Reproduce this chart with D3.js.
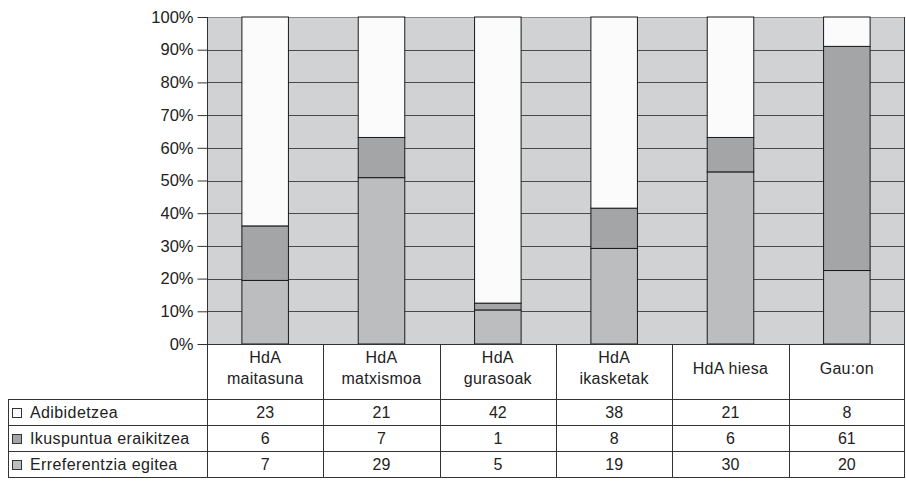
<!DOCTYPE html>
<html>
<head>
<meta charset="utf-8">
<script src="https://cdn.jsdelivr.net/npm/d3@7"></script>
<style>
  body { margin: 0; background: #fff; }
  text { font-family: "Liberation Sans", Arial, sans-serif; fill: #222; }
</style>
</head>
<body>
<div id="chart"></div>
<script>
// categories (header lines) and series values
const categories = [
  ["HdA", "maitasuna"],
  ["HdA", "matxismoa"],
  ["HdA", "gurasoak"],
  ["HdA", "ikasketak"],
  ["HdA hiesa"],
  ["Gau:on"],
];
const seriesNames = ["Adibidetzea", "Ikuspuntua eraikitzea", "Erreferentzia egitea"];
const adibidetzea = [23, 21, 42, 38, 21, 8];
const ikuspuntua = [6, 7, 1, 8, 6, 61];
const erreferentzia = [7, 29, 5, 19, 30, 20];
const yTicks = [0, 0.1, 0.2, 0.3, 0.4, 0.5, 0.6, 0.7, 0.8, 0.9, 1];

const seriesValues = [adibidetzea, ikuspuntua, erreferentzia];
const colors = ["#fbfbfb", "#a4a5a7", "#bcbdbf"];

const width = 906, height = 488;
const plot = { left: 207, right: 905, top: 17, bottom: 344 };
const table = { left: 8, headerBottom: 399, rowH: 26 };
const fontSize = 16;

const svg = d3.select("#chart").append("svg")
  .attr("width", width).attr("height", height);

const keys = categories.map((c, i) => "c" + i);
const xScale = d3.scaleBand().domain(keys)
  .range([plot.left, plot.right]).paddingInner(0).paddingOuter(0);
const yScale = d3.scaleLinear().domain([0, 1]).range([plot.bottom, plot.top]);

// plot background
svg.append("rect")
  .attr("x", plot.left).attr("y", plot.top)
  .attr("width", plot.right - plot.left).attr("height", plot.bottom - plot.top)
  .attr("fill", "#d1d2d4");

// gridlines
svg.append("g").selectAll("line").data(yTicks.slice(1))
  .join("line")
  .attr("x1", plot.left).attr("x2", plot.right)
  .attr("y1", d => Math.round(yScale(d)) + 0.5)
  .attr("y2", d => Math.round(yScale(d)) + 0.5)
  .attr("stroke", (d) => d === 1 ? "#8a8a8a" : "#4a4a4a")
  .attr("stroke-width", 1);

// stacked (100%) data, bottom series first
const rows = categories.map((c, i) => {
  const o = { key: keys[i] };
  seriesNames.forEach((s, j) => (o[s] = seriesValues[j][i]));
  return o;
});
const stack = d3.stack()
  .keys(seriesNames.slice().reverse())
  .offset(d3.stackOffsetExpand);
const stacked = stack(rows);

const barW = xScale.bandwidth() * 0.4;
stacked.forEach((layer) => {
  const ci = seriesNames.indexOf(layer.key);
  svg.append("g").selectAll("rect").data(layer)
    .join("rect")
    .attr("x", d => xScale(d.data.key) + (xScale.bandwidth() - barW) / 2)
    .attr("y", d => yScale(d[1]))
    .attr("width", barW)
    .attr("height", d => yScale(d[0]) - yScale(d[1]))
    .attr("fill", colors[ci])
    .attr("stroke", "#1a1a1a")
    .attr("stroke-width", 1);
});

// plot border left/right
svg.append("line")
  .attr("x1", plot.left + 0.5).attr("x2", plot.left + 0.5)
  .attr("y1", plot.top).attr("y2", plot.bottom)
  .attr("stroke", "#333");
svg.append("line")
  .attr("x1", plot.right - 0.5).attr("x2", plot.right - 0.5)
  .attr("y1", plot.top).attr("y2", plot.bottom)
  .attr("stroke", "#333");

// y axis
const yAxis = d3.axisLeft(yScale)
  .tickValues(yTicks)
  .tickFormat(d3.format(".0%"))
  .tickSize(10)
  .tickPadding(4);
const yg = svg.append("g")
  .attr("transform", `translate(${plot.left + 0.5},0)`)
  .call(yAxis);
yg.select(".domain").remove();
yg.selectAll(".tick line").attr("stroke", "#333");
yg.selectAll(".tick text")
  .attr("font-size", 16.5)
  .attr("font-family", "Liberation Sans, Arial, sans-serif")
  .attr("fill", "#222");

// data table
const tableBottom = table.headerBottom + table.rowH * seriesNames.length;
const tg = svg.append("g").attr("stroke", "#333").attr("stroke-width", 1);
// top line under the plot
tg.append("line")
  .attr("x1", plot.left).attr("x2", plot.right)
  .attr("y1", plot.bottom + 0.5).attr("y2", plot.bottom + 0.5);
// row lines
d3.range(seriesNames.length + 1).forEach((r) => {
  const y = table.headerBottom + r * table.rowH + 0.5;
  tg.append("line")
    .attr("x1", table.left).attr("x2", plot.right)
    .attr("y1", y).attr("y2", y);
});
// vertical lines
keys.forEach((k, i) => {
  const x = Math.round(xScale(k)) + 0.5;
  tg.append("line").attr("x1", x).attr("x2", x)
    .attr("y1", plot.bottom).attr("y2", tableBottom);
});
tg.append("line")
  .attr("x1", plot.right - 0.5).attr("x2", plot.right - 0.5)
  .attr("y1", plot.bottom).attr("y2", tableBottom);
tg.append("line")
  .attr("x1", table.left + 0.5).attr("x2", table.left + 0.5)
  .attr("y1", table.headerBottom).attr("y2", tableBottom);

// header labels
categories.forEach((lines, i) => {
  const cx = xScale(keys[i]) + xScale.bandwidth() / 2;
  const midY = (plot.bottom + table.headerBottom) / 2;
  const lh = 21;
  const t = svg.append("text")
    .attr("text-anchor", "middle")
    .attr("font-size", fontSize)
    .attr("letter-spacing", 0.3);
  lines.forEach((ln, j) => {
    t.append("tspan")
      .attr("x", cx)
      .attr("y", midY + (j - (lines.length - 1) / 2) * lh + 2)
      .text(ln);
  });
});

// legend rows + values
seriesNames.forEach((s, r) => {
  const cy = table.headerBottom + r * table.rowH + table.rowH / 2;
  svg.append("rect")
    .attr("x", 12.5).attr("y", Math.round(cy - 4) + 0.5)
    .attr("width", 9).attr("height", 9)
    .attr("fill", colors[r]).attr("stroke", "#333");
  svg.append("text")
    .attr("x", 30).attr("y", cy + 6)
    .attr("font-size", fontSize)
    .attr("letter-spacing", 0.4)
    .text(s);
  seriesValues[r].forEach((v, i) => {
    svg.append("text")
      .attr("x", xScale(keys[i]) + xScale.bandwidth() / 2)
      .attr("y", cy + 6)
      .attr("text-anchor", "middle")
      .attr("font-size", fontSize)
      .text(v);
  });
});
</script>
</body>
</html>
